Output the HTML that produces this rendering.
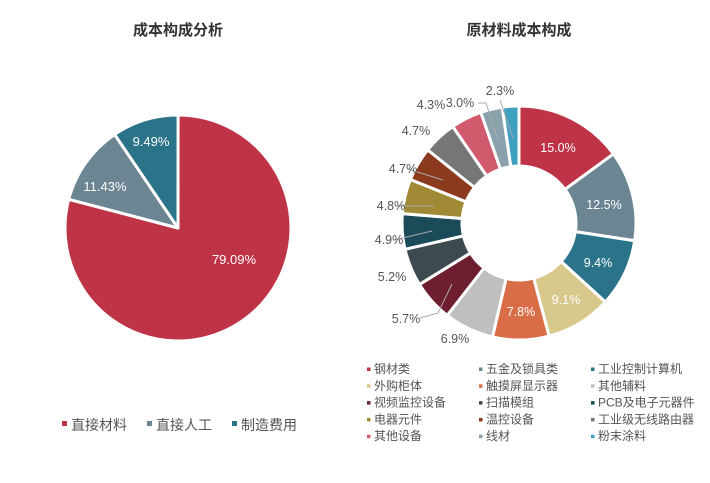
<!DOCTYPE html>
<html><head><meta charset="utf-8"><style>
html,body{margin:0;padding:0;background:#fff;}
body{width:710px;height:478px;overflow:hidden;font-family:"Liberation Sans","Noto Sans CJK SC",sans-serif;}
</style></head><body>
<svg id="s" width="710" height="478" xmlns="http://www.w3.org/2000/svg" font-family="Liberation Sans, Noto Sans CJK SC, sans-serif">
<text x="178" y="35" text-anchor="middle" font-size="15" font-weight="bold" fill="#333">成本构成分析</text>
<text x="519" y="35" text-anchor="middle" font-size="15" font-weight="bold" fill="#333">原材料成本构成</text>
<g id="pie"></g>
<g id="donut"></g>
<text x="234" y="264" fill="#fff" font-size="13" text-anchor="middle">79.09%</text>
<text x="105" y="191" fill="#fff" font-size="13" text-anchor="middle">11.43%</text>
<text x="151" y="146" fill="#fff" font-size="13" text-anchor="middle">9.49%</text>
<g font-size="14" fill="#555">
<rect x="62" y="421" width="5" height="5" fill="#be3446"/><text x="71" y="430">直接材料</text>
<rect x="147" y="421" width="5" height="5" fill="#6b8592"/><text x="156" y="430">直接人工</text>
<rect x="232" y="421" width="5" height="5" fill="#2a7389"/><text x="241" y="430">制造费用</text>
</g>
<g id="lbl" font-size="12.5"></g>
<g id="leg" font-size="12" fill="#555"></g>
</svg>
<script>
var NS="http://www.w3.org/2000/svg";
function el(p,t,a,txt){var e=document.createElementNS(NS,t);for(var k in a)e.setAttribute(k,a[k]);if(txt)e.textContent=txt;p.appendChild(e);return e;}
function pt(cx,cy,r,a){return [cx+r*Math.sin(a),cy-r*Math.cos(a)];}
// pie
var pv=[79.09,11.43,9.49],pc=["#be3446","#6b8592","#2a7389"],a0=0,g=document.getElementById("pie");
for(var i=0;i<3;i++){var a1=a0+pv[i]/100*2*Math.PI,p0=pt(178,228,113,a0),p1=pt(178,228,113,a1);
el(g,"path",{d:"M178 228L"+p0+"A113 113 0 "+(a1-a0>Math.PI?1:0)+" 1 "+p1+"Z",fill:pc[i],stroke:"#fff","stroke-width":3,"stroke-linejoin":"round"});a0=a1;}
// donut
var dv=[15.0,12.5,9.4,9.1,7.8,6.9,5.7,5.2,4.9,4.8,4.7,4.7,4.3,3.0,2.3];
var dc=["#be3446","#6b8592","#2a7389","#d9c88c","#d96d48","#bfbfbf","#6e1e2e","#3d4a4f","#1b4a59","#a08a36","#8b3a1e","#767676","#d15a6c","#8aa2ac","#3fa0bf"];
var names=["钢材类","五金及锁具类","工业控制计算机","外购柜体","触摸屏显示器","其他辅料","视频监控设备","扫描模组","PCB及电子元器件","电器元件","温控设备","工业级无线路由器","其他设备","线材","粉末涂料"];
var tot=dv.reduce(function(a,b){return a+b},0),cx=519,cy=223,R=117,r=57;g=document.getElementById("donut");a0=0;
var mids=[];
for(i=0;i<dv.length;i++){var a1=a0+dv[i]/tot*2*Math.PI;var o0=pt(cx,cy,R,a0),o1=pt(cx,cy,R,a1),i1=pt(cx,cy,r,a1),i0=pt(cx,cy,r,a0);
el(g,"path",{d:"M"+o0+"A"+R+" "+R+" 0 0 1 "+o1+"L"+i1+"A"+r+" "+r+" 0 0 0 "+i0+"Z",fill:dc[i],stroke:"#fff","stroke-width":3,"stroke-linejoin":"round"});mids.push((a0+a1)/2);a0=a1;}
var L=document.getElementById("lbl");
var ins=[[558,152,"15.0%"],[604,209,"12.5%"],[598,267,"9.4%"],[566,304,"9.1%"],[521,316,"7.8%"]];
ins.forEach(function(t){el(L,"text",{x:t[0],y:t[1],fill:"#fff","text-anchor":"middle"},t[2]);});
var out=[[455,343,"6.9%",null],[406,323,"5.7%",[420,318,438,313,452,284]],[392,281,"5.2%",null],[389,244,"4.9%",[394,240,432,231]],[391,210,"4.8%",[396,206,434,206]],[403,173,"4.7%",[408,169,443,180]],[416,135,"4.7%",null],[431,109,"4.3%",null],[460,107,"3.0%",[478,103,486,103,498,140]],[500,95,"2.3%",[500,100,513,138]]];
out.forEach(function(t){if(t[3]){var d="M"+t[3][0]+" "+t[3][1];for(var k=2;k<t[3].length;k+=2)d+="L"+t[3][k]+" "+t[3][k+1];el(L,"path",{d:d,fill:"none",stroke:"#aaa","stroke-width":1});}
el(L,"text",{x:t[0],y:t[1],fill:"#555","text-anchor":"middle"},t[2]);});
var G=document.getElementById("leg"),xs=[367,479,591];
for(i=0;i<15;i++){var c=i%3,rw=Math.floor(i/3),y=369+rw*16.8;
el(G,"rect",{x:xs[c],y:y-1.5,width:3.5,height:3.5,fill:dc[i]});el(G,"text",{x:xs[c]+7,y:y+4},names[i]);}
</script>
</body></html>
